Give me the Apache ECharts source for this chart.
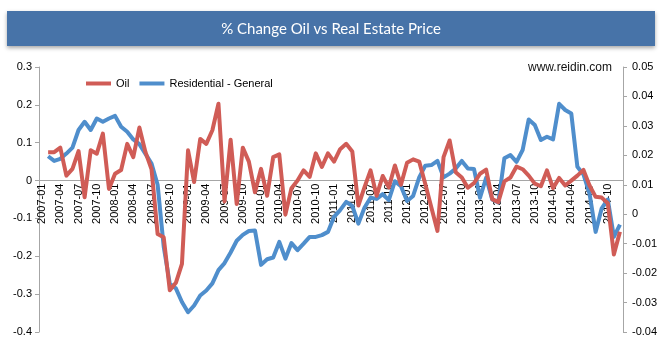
<!DOCTYPE html>
<html>
<head>
<meta charset="utf-8">
<script src="https://cdn.jsdelivr.net/npm/echarts@6/dist/echarts.min.js"></script>
<style>
html,body{margin:0;padding:0;background:#fff;}
#chart{width:665px;height:348px;}
</style>
</head>
<body>
<div id="chart"></div>
<script>
// Monthly categories 2007-01 .. 2014-12
var years = ['2007','2008','2009','2010','2011','2012','2013','2014'];
var months = ['01','02','03','04','05','06','07','08','09','10','11','12'];
var categories = [];
years.forEach(function(y){ months.forEach(function(m){ categories.push(y + '-' + m); }); });

// Oil % change (left axis)
var oil = [null,
 0.075, 0.075, 0.087, 0.013, 0.031, 0.078, -0.044, 0.080, 0.071, 0.124, -0.022,
 0.018, 0.028, 0.097, 0.062, 0.140, 0.075, 0.030, -0.141, -0.150, -0.290, -0.270, -0.220,
 0.080, -0.004, 0.110, 0.097, 0.133, 0.203, -0.055, 0.108, -0.062, 0.087, 0.050, -0.031,
 0.031, -0.040, 0.062, 0.069, -0.090, -0.020, 0.000, 0.027, 0.010, 0.072, 0.036, 0.072,
 0.050, 0.083, 0.097, 0.077, -0.066, -0.018, 0.027, -0.040, 0.012, -0.018, 0.040, -0.011,
 0.047, 0.056, 0.050, -0.009, -0.071, -0.133, 0.062, 0.106, 0.022, 0.008, -0.019, -0.007,
 0.018, 0.029, -0.049, -0.057, -0.002, 0.008, 0.037, 0.030, 0.013, -0.008, -0.015, 0.027,
 -0.020, 0.007, -0.013, 0.000, 0.013, 0.028, -0.013, -0.043, -0.045, -0.060, -0.195, -0.135];

// Residential - General % change (right axis)
var residential = [null,
 0.0197, 0.0181, 0.0188, 0.0206, 0.0226, 0.0286, 0.0314, 0.0286, 0.0325, 0.0314, 0.0325,
 0.0334, 0.0297, 0.0280, 0.0254, 0.0238, 0.0205, 0.0172, 0.0100, -0.0110, -0.0236, -0.0252, -0.0298,
 -0.0333, -0.0310, -0.0276, -0.0259, -0.0235, -0.0190, -0.0166, -0.0130, -0.0090, -0.0070, -0.0057, -0.0055,
 -0.0172, -0.0153, -0.0147, -0.0094, -0.0151, -0.0098, -0.0122, -0.0100, -0.0077, -0.0077, -0.0071, -0.0060,
 -0.0009, 0.0014, 0.0042, 0.0028, -0.0032, 0.0022, 0.0056, 0.0052, 0.0068, 0.0048, 0.0112, 0.0095,
 0.0045, 0.0062, 0.0125, 0.0165, 0.0167, 0.0181, 0.0125, 0.0138, 0.0155, 0.0181, 0.0155, 0.0154,
 0.0056, 0.0124, 0.0050, 0.0040, 0.0190, 0.0201, 0.0178, 0.0218, 0.0322, 0.0303, 0.0252, 0.0263,
 0.0254, 0.0375, 0.0354, 0.0342, 0.0161, 0.0135, 0.0070, -0.0060, 0.0020, 0.0050, -0.0077, -0.0035];

var seriesNames = ['Oil', 'Residential - General'];
var titleText = '% Change Oil vs Real Estate Price';
var sourceText = 'www.reidin.com';
var leftMin = -0.4, leftMax = 0.3;

var FONT = '"Liberation Sans", Arial, sans-serif';
var gridTop = 67, gridBottom = 16, chartH = 348;
var plotH = chartH - gridTop - gridBottom;
// place the category axis at the left axis' zero line
var zeroOffset = -plotH * (0 - leftMin) / (leftMax - leftMin);

var chart = echarts.init(document.getElementById('chart'), null, {renderer: 'canvas'});
chart.setOption({
  animation: false,
  backgroundColor: '#ffffff',
  grid: {left: 39, right: 42, top: gridTop, bottom: gridBottom, containLabel: false, outerBoundsMode: 'none'},
  legend: {
    data: seriesNames,
    left: 86, top: 78, padding: 0,
    icon: 'rect', itemWidth: 25, itemHeight: 4, itemGap: 10,
    textStyle: {fontFamily: FONT, fontSize: 11, color: '#000'}
  },
  graphic: [
    {type: 'rect', shape: {x: 7, y: 11, width: 648, height: 35},
     style: {fill: '#4773A8', shadowBlur: 4, shadowOffsetY: 2, shadowColor: 'rgba(0,0,0,0.35)'}, z: 10},
    {type: 'text', x: 331, y: 29, z: 11,
     style: {text: titleText, fill: '#ffffff', font: '15px Lato, "Open Sans", sans-serif', textAlign: 'center', textVerticalAlign: 'middle'}},
    {type: 'text', x: 612, y: 68, z: 11,
     style: {text: sourceText, fill: '#111', font: '12px ' + FONT, textAlign: 'right', textVerticalAlign: 'middle'}}
  ],
  xAxis: {
    type: 'category', data: categories, boundaryGap: true,
    position: 'bottom', offset: zeroOffset,
    axisLine: {onZero: false, lineStyle: {color: '#A6A6A6', width: 1}},
    axisTick: {interval: 0, inside: true, length: 3, lineStyle: {color: '#A6A6A6'}},
    axisLabel: {interval: 2, rotate: 90, margin: 3, fontFamily: FONT, fontSize: 11, color: '#000'},
    splitLine: {show: false}
  },
  yAxis: [
    {type: 'value', min: leftMin, max: leftMax, interval: 0.1,
     axisLine: {show: true, lineStyle: {color: '#A6A6A6'}},
     axisTick: {show: true, length: 4, lineStyle: {color: '#A6A6A6'}},
     axisLabel: {margin: 7, fontFamily: FONT, fontSize: 11, color: '#000',
       formatter: function(v){ var r = Math.round(v*10)/10; return r === 0 ? '0' : String(r); }},
     splitLine: {show: false}},
    {type: 'value', min: -0.04, max: 0.05, interval: 0.01, position: 'right',
     axisLine: {show: true, lineStyle: {color: '#A6A6A6'}},
     axisTick: {show: true, length: 4, lineStyle: {color: '#A6A6A6'}},
     axisLabel: {margin: 9, fontFamily: FONT, fontSize: 11, color: '#000',
       formatter: function(v){ var r = Math.round(v*100)/100; return r === 0 ? '0' : String(r); }},
     splitLine: {show: false}}
  ],
  series: [
    {name: seriesNames[1], type: 'line', yAxisIndex: 1, data: residential,
     symbol: 'none', color: '#4F8ECC', lineStyle: {width: 4, color: '#4F8ECC', join: 'round'}, z: 2},
    {name: seriesNames[0], type: 'line', yAxisIndex: 0, data: oil,
     symbol: 'none', color: '#D05C56', lineStyle: {width: 4, color: '#D05C56', join: 'round'}, z: 3}
  ]
});
</script>
</body>
</html>
